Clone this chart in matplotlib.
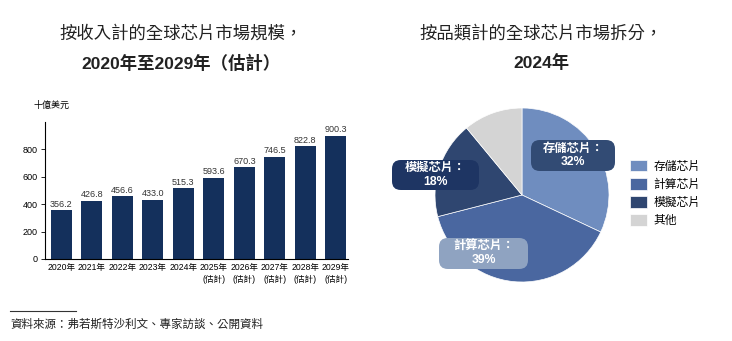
import matplotlib.pyplot as plt
from matplotlib.patches import FancyBboxPatch

plt.rcParams["font.family"] = ["Liberation Sans", "Noto Sans CJK TC", "DejaVu Sans"]

years = ["2020年", "2021年", "2022年", "2023年", "2024年",
         "2025年\n(估計)", "2026年\n(估計)", "2027年\n(估計)",
         "2028年\n(估計)", "2029年\n(估計)"]
revenue = [356.2, 426.8, 456.6, 433.0, 515.3, 593.6, 670.3, 746.5, 822.8, 900.3]

segments = ["存儲芯片", "計算芯片", "模擬芯片", "其他"]
shares = [32, 39, 18, 11]
seg_colors = ["#6f8dbf", "#4a67a0", "#2f4670", "#d4d4d4"]

W, H = 732, 341
fig = plt.figure(figsize=(W / 100, H / 100), dpi=100)


def fx(px):
    return px / W


def fy(py):
    return 1 - py / H


# --- bar chart ---
ax = fig.add_axes([fx(45), fy(259), fx(348 - 45), (259 - 122) / H])
x = range(len(revenue))
ax.bar(x, revenue, width=0.69, color="#14305c")
for xi, v in zip(x, revenue):
    ax.text(xi, v + 12, f"{v:.1f}", ha="center", va="bottom", fontsize=6.5, color="#333333")
ax.set_xlim(-0.54, 9.4)
ax.set_ylim(0, 1000)
ax.set_yticks([0, 200, 400, 600, 800])
ax.set_xticks(list(x))
ax.set_xticklabels(years, fontsize=6.2, linespacing=1.4)
ax.tick_params(axis="x", length=0, pad=3)
ax.tick_params(axis="y", labelsize=6.5, length=3, width=0.6, pad=2)
for s in ["top", "right"]:
    ax.spines[s].set_visible(False)
for s in ["left", "bottom"]:
    ax.spines[s].set_linewidth(0.8)
fig.text(fx(33), fy(105), "十億美元", fontsize=6.5, va="center", ha="left")

fig.text(fx(181), fy(33), "按收入計的全球芯片市場規模，", fontsize=12.5, ha="center", va="center", color="#222222")
fig.text(fx(181), fy(63), "2020年至2029年（估計）", fontsize=12.5, ha="center", va="center",
         fontweight="bold", color="#222222")

# --- pie chart ---
pax = fig.add_axes([fx(435), fy(282), 174 / W, 174 / H])
wedges, _ = pax.pie(shares, colors=seg_colors, startangle=90, counterclock=False,
                    radius=1.0, wedgeprops=dict(linewidth=0.5, edgecolor="white"))
pax.set_xlim(-1, 1)
pax.set_ylim(-1, 1)
pax.set_aspect("equal")
pax.axis("off")

# label boxes: (x0, y0, x1, y1) in pixels from the top-left
box_specs = [
    (531, 140, 615, 171, "存儲芯片：\n32%", "#324b74"),
    (392, 160, 479, 190, "模擬芯片：\n18%", "#1e3563"),
    (439, 238, 528, 269, "計算芯片：\n39%", "#8fa3c1"),
]
for x0, y0, x1, y1, txt, bc in box_specs:
    fig.add_artist(FancyBboxPatch((fx(x0), fy(y1)), fx(x1 - x0), (y1 - y0) / H,
                                  boxstyle="round,pad=0,rounding_size=0.012",
                                  transform=fig.transFigure, facecolor=bc, edgecolor="none",
                                  mutation_aspect=W / H))
    fig.text(fx((x0 + x1) / 2), fy((y0 + y1) / 2), txt, ha="center", va="center", fontsize=8.8,
             color="white", fontweight="bold", linespacing=1.15)

fig.legend(wedges, segments, loc="upper left", bbox_to_anchor=(fx(625), fy(155)),
           frameon=False, fontsize=8.5, handlelength=1.5, handleheight=1.15,
           labelspacing=0.45, handletextpad=0.5, borderaxespad=0)

fig.text(fx(541), fy(33), "按品類計的全球芯片市場拆分，", fontsize=12.5, ha="center", va="center", color="#222222")
fig.text(fx(541), fy(63), "2024年", fontsize=12.5, ha="center", va="center",
         fontweight="bold", color="#222222")

# --- source note ---
fig.add_artist(plt.Line2D([fx(10), fx(76)], [fy(311), fy(311)], color="#333333", linewidth=0.8))
fig.text(fx(10), fy(325), "資料來源：弗若斯特沙利文、專家訪談、公開資料", fontsize=8.3,
         ha="left", va="center", color="#222222")

fig.savefig("out.png", dpi=100)
